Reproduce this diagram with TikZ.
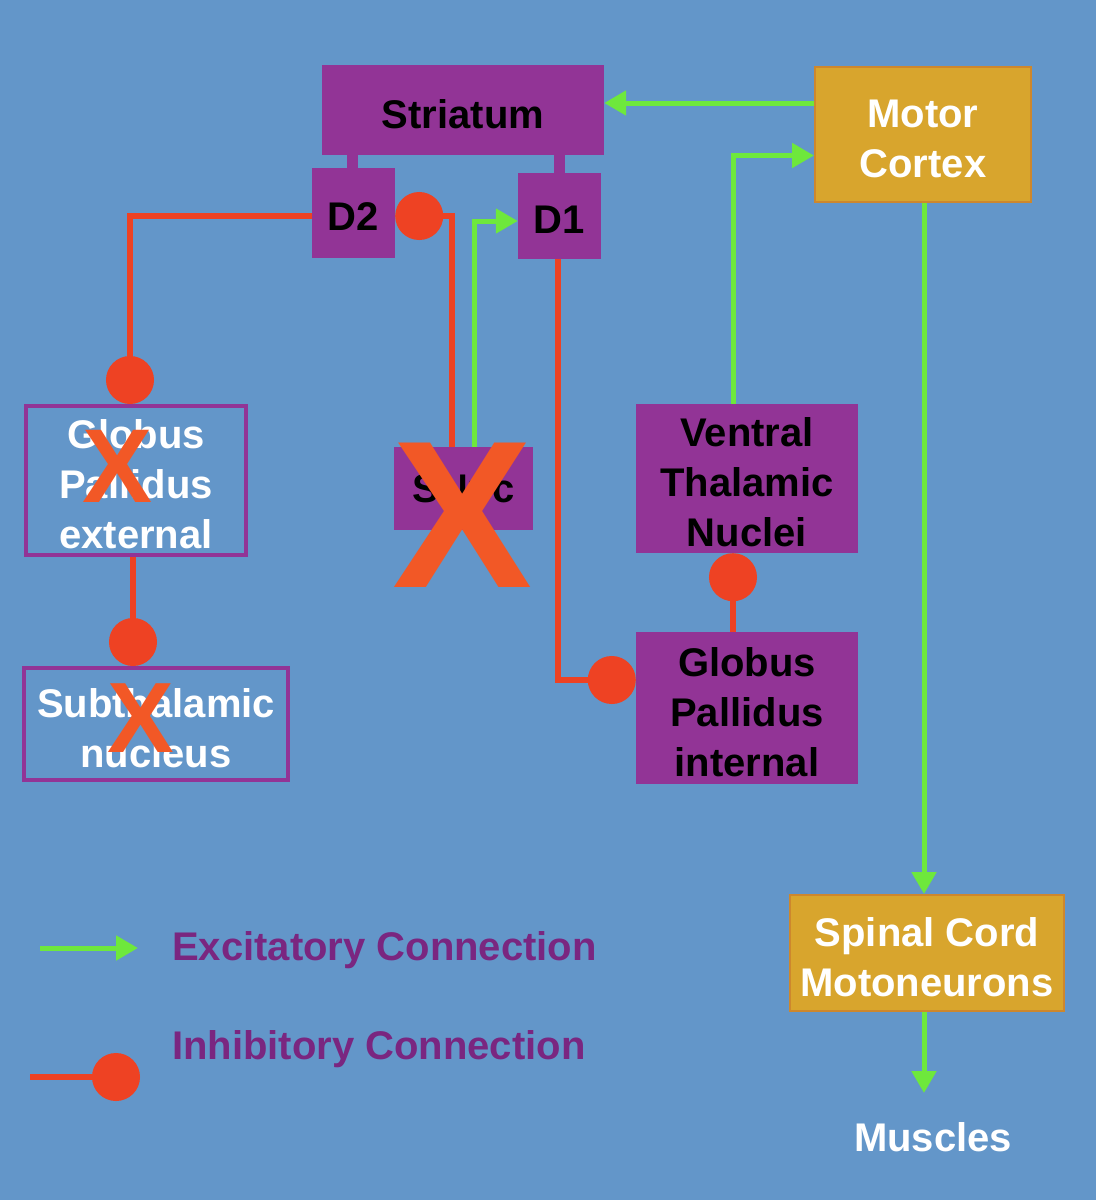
\documentclass[tikz,border=0pt]{standalone}
\usepackage{fontspec}
\setmainfont{Liberation Sans}
\usetikzlibrary{arrows.meta}
\definecolor{bg}{RGB}{99,150,201}
\definecolor{purp}{RGB}{146,52,150}
\definecolor{legp}{RGB}{122,38,128}
\definecolor{orng}{RGB}{216,165,45}
\definecolor{orngdk}{RGB}{205,135,45}
\definecolor{redc}{RGB}{238,66,35}
\definecolor{grn}{RGB}{110,232,60}
\definecolor{xcol}{RGB}{242,88,38}
\tikzset{
  boxfont/.style={font=\bfseries\fontsize{40}{50}\selectfont},
  box/.style={rectangle, inner sep=0pt},
  btxt/.style={boxfont, align=center, inner sep=0pt, yshift=-4pt},
  pbox/.style={box, fill=purp},
  obox/.style={box, fill=orng, draw=orngdk, line width=2pt},
  hbox/.style={box, draw=purp, line width=4pt},
  blk/.style={label={[btxt, text=black]center:{#1}}},
  wht/.style={label={[btxt, text=white]center:{#1}}},
  exc/.style={draw=grn, line width=5pt, -{Triangle[length=22pt,width=24pt]}},
  inh/.style={draw=redc, line width=6pt, -{Circle[length=48pt]}},
  stub/.style={draw=purp, line width=11pt},
  crossmark/.style={text=xcol, inner sep=0pt, font=\bfseries\fontsize{#1}{#1}\selectfont},
  legtext/.style={anchor=west, inner sep=0pt, text=legp, boxfont}
}
\begin{document}
\begin{tikzpicture}[x=1pt,y=-1pt]
\fill[bg] (0,0) rectangle (1096,1200);
\useasboundingbox (0,0) rectangle (1096,1200);

% nodes
\node[pbox, minimum width=282pt, minimum height=90pt, blk={Striatum}] (str) at (463,110) {};
\node[pbox, minimum width=83pt, minimum height=90pt, blk={D2}] (d2) at (353.5,213) {};
\node[pbox, minimum width=83pt, minimum height=86pt, blk={D1}] (d1) at (559.5,216) {};
\node[obox, minimum width=216pt, minimum height=135pt, wht={Motor\\Cortex}] (mc) at (923,134.5) {};
\node[hbox, minimum width=220pt, minimum height=149pt, wht={Globus\\Pallidus\\external}] (gpe) at (136,480.5) {};
\node[hbox, minimum width=264pt, minimum height=112pt, wht={Subthalamic\\nucleus}] (stn) at (156,724) {};
\node[pbox, minimum width=139pt, minimum height=83pt, blk={SNpc}] (snc) at (463.5,488.5) {};
\node[pbox, minimum width=222pt, minimum height=149pt, blk={Ventral\\Thalamic\\Nuclei}] (vtn) at (747,478.5) {};
\node[pbox, minimum width=222pt, minimum height=152pt, blk={Globus\\Pallidus\\internal}] (gpi) at (747,708) {};
\node[obox, minimum width=274pt, minimum height=116pt, wht={Spinal Cord\\Motoneurons}] (sc) at (927,953) {};
\node[boxfont, inner sep=0pt, text=white] (mus) at (933,1137) {Muscles};
\coordinate (mtop) at (924,1093);

% stubs striatum -> D2 / D1
\draw[stub] ([xshift=-1.5pt]d2.north) -- ([xshift=-1.5pt]d2.north |- str.south);
\draw[stub] (d1.north) -- (d1.north |- str.south);

% connectors
\draw[exc] ([yshift=31.5pt]mc.west) -- ([yshift=31.5pt]mc.west -| str.east);
\draw[exc] ([xshift=-14pt]vtn.north) |- ([yshift=-21pt]mc.west);
\draw[exc] ([xshift=1pt]mc.south) -- ([xshift=1pt]mc.south |- sc.north);
\draw[exc] ([xshift=-3pt]sc.south) -- (mtop);
\draw[inh] ([yshift=-3pt]d2.west) -| ([xshift=-6pt]gpe.north);
\draw[inh] ([xshift=-3pt]gpe.south) -- ([xshift=-3pt]gpe.south |- stn.north);
\draw[inh] ([xshift=-11.5pt]snc.north) |- ([yshift=-3pt]d2.east);
\draw[exc] ([xshift=10.5pt]snc.north) |- ([yshift=-5pt]d1.west);
\draw[inh] ([xshift=-1.5pt]d1.south) |- ([yshift=28pt]gpi.west);
\draw[inh] ([xshift=-14pt]gpi.north) -- ([xshift=-14pt]vtn.south);

% crosses
\node[crossmark=210] (xsnc) at (463,515) {X};
\node[crossmark=105] (xgpe) at (118,466) {X};
\node[crossmark=100] (xstn) at (141,718) {X};

% legend
\coordinate (l1a) at (40,948);
\coordinate (l1b) at (138,948);
\coordinate (l2a) at (30,1077);
\coordinate (l2b) at (140,1077);
\draw[exc] (l1a) -- (l1b);
\draw[inh] (l2a) -- (l2b);
\node[legtext] (lt1) at (172,950) {Excitatory Connection};
\node[legtext] (lt2) at (172,1049) {Inhibitory Connection};
\end{tikzpicture}
\end{document}
